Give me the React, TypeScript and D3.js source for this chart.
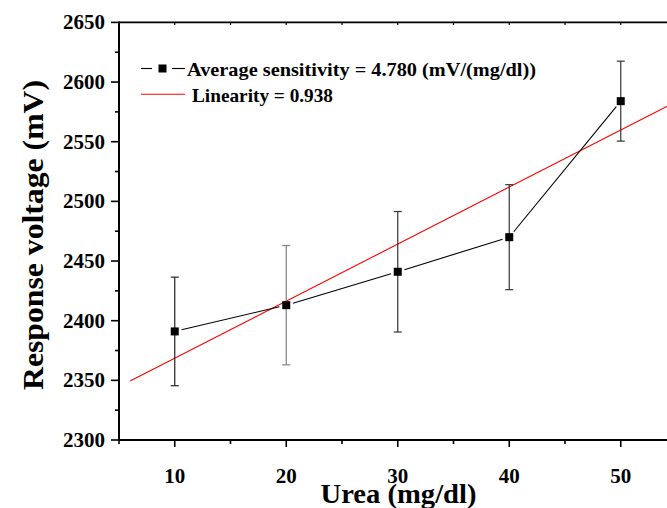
import * as d3 from 'd3';

const urea = [10, 20, 30, 40, 50];
const voltage = [2391, 2413, 2441, 2470, 2584];
const errors = [45.5, 50, 50.5, 44, 33.5];
const errorColors = ['#222', '#808080', '#333', '#333', '#333'];
const yTicks = [2300, 2350, 2400, 2450, 2500, 2550, 2600, 2650];
const xTicks = [10, 20, 30, 40, 50];
const fitSlope = 4.78;
const fitIntercept = 2320.8;
const fitRange = [6, 55];

const W = 667;
const H = 508;
const font = '"Liberation Serif", "Times New Roman", serif';

export default function App() {
  const x = d3.scaleLinear().domain([5, 55]).range([119, 676.5]);
  const y = d3.scaleLinear().domain([2300, 2650]).range([440, 22.4]);

  const minorY = d3.range(2325, 2650, 50);
  const minorX = d3.range(5, 56, 10);
  const topTicks = d3.range(5, 56, 5);

  const pts = urea.map((u, i) => [x(u), y(voltage[i])] as [number, number]);

  // connecting line leaves a small gap around each marker
  const gap = 7;
  const segs = pts.slice(1).map((p, i) => {
    const a = pts[i];
    const dx = p[0] - a[0], dy = p[1] - a[1];
    const len = Math.hypot(dx, dy);
    const ux = dx / len, uy = dy / len;
    return [a[0] + ux * gap, a[1] + uy * gap, p[0] - ux * gap, p[1] - uy * gap];
  });

  const fitLine = d3.line<number>()
    .x(d => x(d))
    .y(d => y(fitIntercept + fitSlope * d));

  return (
    <svg width={W} height={H} style={{ position: 'absolute', left: 0, top: 0, background: '#fff' }}>
      <defs>
        <clipPath id="plot">
          <rect x={119} y={22} width={W - 119} height={418} />
        </clipPath>
      </defs>

      {/* frame */}
      <line x1={119} x2={W} y1={22.4} y2={22.4} stroke="#000" strokeWidth={1.6} />
      <line x1={118} x2={W} y1={440} y2={440} stroke="#000" strokeWidth={2} />
      <line x1={119} x2={119} y1={21.6} y2={441} stroke="#000" strokeWidth={2} />

      {/* left ticks */}
      {yTicks.map(t => (
        <g key={t}>
          <line x1={111} x2={119} y1={y(t)} y2={y(t)} stroke="#000" strokeWidth={1.6} />
          <text x={105} y={y(t) + 7} textAnchor="end" fontFamily={font} fontWeight="bold" fontSize={20}
            textLength={42} lengthAdjust="spacingAndGlyphs">{t}</text>
        </g>
      ))}
      {minorY.map(t => (
        <line key={t} x1={115} x2={119} y1={y(t)} y2={y(t)} stroke="#000" strokeWidth={1.6} />
      ))}

      {/* bottom ticks */}
      {xTicks.map(t => (
        <g key={t}>
          <line x1={x(t)} x2={x(t)} y1={440} y2={447} stroke="#000" strokeWidth={1.6} />
          <text x={x(t)} y={483} textAnchor="middle" fontFamily={font} fontWeight="bold" fontSize={20}
            textLength={21} lengthAdjust="spacingAndGlyphs">{t}</text>
        </g>
      ))}
      {minorX.map(t => (
        <line key={t} x1={x(t)} x2={x(t)} y1={440} y2={444} stroke="#000" strokeWidth={1.6} />
      ))}

      {/* top ticks */}
      {topTicks.map(t => (
        <line key={t} x1={x(t)} x2={x(t)} y1={22.4} y2={25} stroke="#000" strokeWidth={1.2} />
      ))}

      <g clipPath="url(#plot)">
        <path d={fitLine(fitRange) ?? ''} fill="none" stroke="#ff0000" strokeWidth={1.1} />
      </g>

      {/* error bars */}
      {urea.map((u, i) => (
        <g key={u} stroke={errorColors[i]} strokeWidth={1.2}>
          <line x1={x(u)} x2={x(u)} y1={y(voltage[i] + errors[i])} y2={y(voltage[i] - errors[i])} />
          <line x1={x(u) - 4} x2={x(u) + 4} y1={y(voltage[i] + errors[i])} y2={y(voltage[i] + errors[i])} />
          <line x1={x(u) - 4} x2={x(u) + 4} y1={y(voltage[i] - errors[i])} y2={y(voltage[i] - errors[i])} />
        </g>
      ))}

      {segs.map((s, i) => (
        <line key={i} x1={s[0]} y1={s[1]} x2={s[2]} y2={s[3]} stroke="#000" strokeWidth={1.1} />
      ))}
      {pts.map((p, i) => (
        <rect key={i} x={p[0] - 4} y={p[1] - 4} width={8} height={8} fill="#000" />
      ))}

      {/* legend */}
      <line x1={141} x2={152} y1={68.5} y2={68.5} stroke="#000" strokeWidth={1.1} />
      <line x1={172} x2={185} y1={68.5} y2={68.5} stroke="#000" strokeWidth={1.1} />
      <rect x={158.5} y={64.5} width={8} height={8} fill="#000" />
      <text x={187} y={76} fontFamily={font} fontWeight="bold" fontSize={19}
        textLength={349} lengthAdjust="spacingAndGlyphs">Average sensitivity = 4.780 (mV/(mg/dl))</text>
      <line x1={141} x2={185} y1={94.3} y2={94.3} stroke="#ff0000" strokeWidth={1.1} />
      <text x={192} y={102} fontFamily={font} fontWeight="bold" fontSize={19}
        textLength={141} lengthAdjust="spacingAndGlyphs">Linearity = 0.938</text>

      {/* axis titles */}
      <text x={398.5} y={503} textAnchor="middle" fontFamily={font} fontWeight="bold" fontSize={27}
        textLength={156} lengthAdjust="spacingAndGlyphs">Urea (mg/dl)</text>
      <text transform="translate(43,235) rotate(-90)" textAnchor="middle" fontFamily={font} fontWeight="bold" fontSize={29}
        textLength={310} lengthAdjust="spacingAndGlyphs">Response voltage (mV)</text>
    </svg>
  );
}
